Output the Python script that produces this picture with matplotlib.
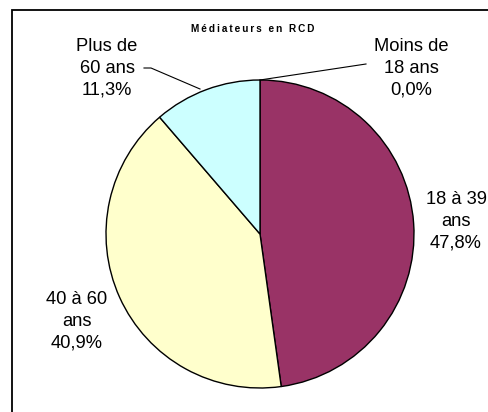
import matplotlib
matplotlib.use('Agg')
import matplotlib.pyplot as plt
from matplotlib.patches import Rectangle

# data
labels = ['Moins de\n18 ans', '18 à 39\nans', '40 à 60\nans', 'Plus de\n60 ans']
values = [0.0, 47.8, 40.9, 11.3]
colors = ['#CCFFFF', '#993366', '#FFFFCC', '#CCFFFF']
title = 'Médiateurs en RCD'

plt.rcParams['font.family'] = ['Liberation Sans', 'DejaVu Sans']

W, H = 489, 412
fig = plt.figure(figsize=(W / 100, H / 100), dpi=100)
ax = fig.add_axes([0, 0, 1, 1])
ax.axis('off')

# outer frame (runs past the right and bottom edges)
fig.patches.append(Rectangle((12 / W, -0.2), 1.2, 1.2 - 10 / H, transform=fig.transFigure,
                             fill=False, edgecolor='black', linewidth=1.3))

cx, cy, r = 260, H - 234, 154
ax.pie(values, colors=colors, startangle=90, counterclock=False, center=(cx, cy), radius=r,
       wedgeprops=dict(edgecolor='black', linewidth=1.0))
ax.set_xlim(0, W)
ax.set_ylim(0, H)
ax.set_aspect('equal')

# label positions in pixel coords (x, y from top)
pos = [(411, 68), (456, 221), (77, 321), (107, 68)]
for lab, v, (px, py) in zip(labels, values, pos):
    txt = lab + '\n' + f'{v:.1f}%'.replace('.', ',')
    ax.text(px, H - py, txt, ha='center', va='center', fontsize=13.2, linespacing=1.38)

# leader lines
ax.plot([144, 151, 200], [H - 68, H - 68, H - 89], color='black', lw=0.8)
ax.plot([366, cx], [H - 64, H - 80], color='black', lw=0.8)

ax.text(253, H - 29, '\u2009'.join(title), ha='center', va='center', fontsize=7.2,
        fontweight='bold')

fig.savefig('out.png', dpi=100)
